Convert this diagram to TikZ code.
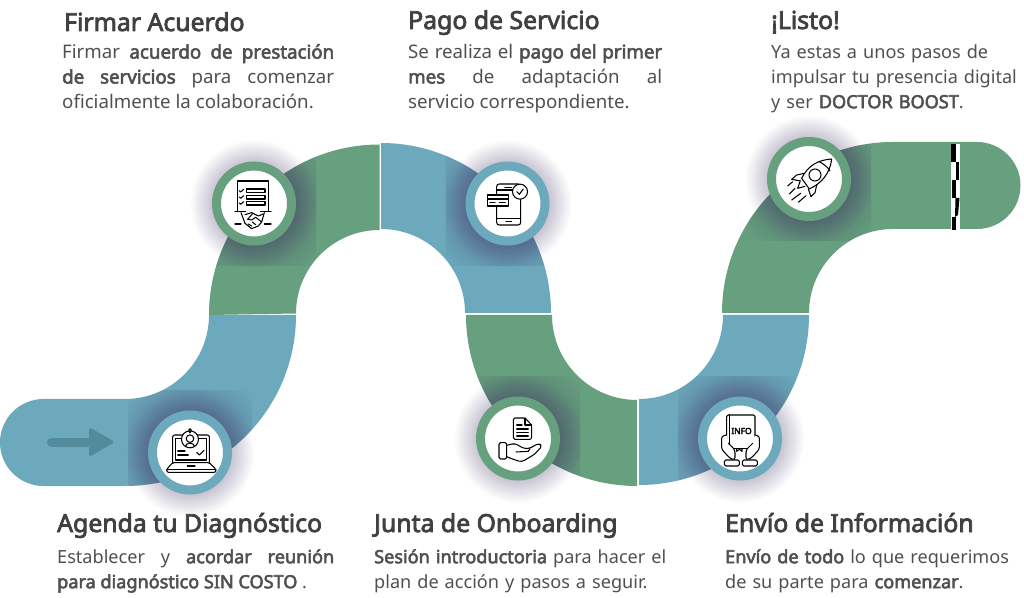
\documentclass[tikz,border=0pt]{standalone}
\usepackage{fontspec}
\setmainfont[BoldFont={Noto Sans},BoldFeatures={FakeBold=3}]{Noto Sans}
\usetikzlibrary{fadings}
\definecolor{ribbonblue}{HTML}{6CA9BC}
\definecolor{ribbongreen}{HTML}{66A07E}
\definecolor{arrowblue}{HTML}{528B9B}
\definecolor{inktext}{HTML}{404040}
\definecolor{bodytext}{HTML}{505050}
\definecolor{glowcol}{HTML}{3E2F62}
\tikzfading[name=glow, inner color=transparent!20, outer color=transparent!100]
\tikzfading[name=ribbonglow, inner color=transparent!45, outer color=transparent!100]
\tikzset{
  seg blue/.style={fill=ribbonblue,draw=none},
  seg green/.style={fill=ribbongreen,draw=none},
  title text/.style={anchor=base west,inner sep=0pt,text=inktext,font=\bfseries\fontsize{24.8}{27}\selectfont},
  body text/.style={anchor=north west,inner sep=0pt,text=bodytext,font=\fontsize{18.1}{25}\selectfont,
     text width=#1,align=justify,execute at begin node={\hyphenpenalty=10000\tolerance=9999\hbadness=10000\rule{0pt}{14pt}}},
  body left/.style={anchor=north west,inner sep=0pt,text=bodytext,font=\fontsize{18.1}{25}\selectfont,
     text width=#1,align=left,execute at begin node={\hyphenpenalty=10000\rule{0pt}{14pt}}},
  body wide/.style={font=\fontsize{18.7}{25}\selectfont},
  icon/.style={draw=black,line width=1.05pt,line join=round,line cap=round},
  badge blue/.style={circle,fill=white,draw=ribbonblue,line width=9pt,minimum size=75pt,inner sep=0pt},
  badge green/.style={circle,fill=white,draw=ribbongreen,line width=9pt,minimum size=75pt,inner sep=0pt},
}
\newcommand{\segA}{(125,111) -- (43.5,111) arc (270:90:43.5) -- (125,198) arc (-90:0:84) -- (296,282) arc (0:-90:171) -- cycle}
\newcommand{\segB}{(209,282) arc (180:90:170.5) -- (379.5,367) arc (90:180:83.5) -- cycle}
\newcommand{\segC}{(381,454) arc (90:0:170) -- (465,284) arc (0:90:84) -- cycle}
\newcommand{\segD}{(466,282) arc (180:270:171) -- (637,197) arc (270:180:85) -- cycle}
\newcommand{\segE}{(639,112) arc (-90:0:170) -- (723,282) arc (0:-90:84) -- cycle}
\newcommand{\segF}{(722,284) arc (180:90:171) -- (977,455) arc (90:-90:43.5) -- (893,368) arc (90:180:84) -- cycle}
\newcommand{\badgeshadow}[3]{%
  \begin{scope}\clip #3;\clip (#1-62,#2-62) rectangle (#1+62,#2+62);
  \fill[glowcol,path fading=ribbonglow] (#1,#2) circle[radius=85pt];\end{scope}
  \fill[glowcol,path fading=glow] (#1,#2) circle[radius=64pt];}
\begin{document}
\begin{tikzpicture}[x=1pt,y=1pt]
\useasboundingbox (0,0) rectangle (1024,597);
\fill[white] (0,0) rectangle (1024,597);
% ribbon
\fill[seg blue] \segA;
\fill[seg green] \segB;
\fill[seg blue] \segC;
\fill[seg green] \segD;
\fill[seg blue] \segE;
\fill[seg green] \segF;
% start arrow
\draw[arrowblue,line width=9pt,line cap=round] (51.5,155) -- (92,155);
\fill[arrowblue,rounded corners=3pt] (89,170) -- (115,155) -- (89,140) -- cycle;
% finish line
\fill[white] (951,367) rectangle (960,453);
\fill[black] (951,453) rectangle (955.5,435);
\fill[black] (955.5,435) rectangle (959,417);
\fill[black] (952,417) rectangle (956,399);
\fill[black] (955.5,399) -- (959.5,399) -- (958,382) -- (955,380) -- cycle;
\fill[black] (952,380) rectangle (956,367);
% shadows
\badgeshadow{190}{144.5}{\segA}
\badgeshadow{254}{393.5}{\segB}
\badgeshadow{507.5}{393.5}{\segC}
\badgeshadow{518}{158.5}{\segD}
\badgeshadow{740}{158.5}{\segE}
\badgeshadow{809}{418}{\segF}
% badges
\node[badge blue] (badgeA) at (190,144.5) {};
\node[badge green] (badgeB) at (254,393.5) {};
\node[badge blue] (badgeC) at (507.5,393.5) {};
\node[badge green] (badgeD) at (518,158.5) {};
\node[badge blue] (badgeE) at (740,158.5) {};
\node[badge green] (badgeF) at (809,418) {};
% icon laptop
\begin{scope}[shift={(130,207)},x=0.3333pt,y=-0.3333pt,icon]
\draw[rounded corners=2pt] (128,218) -- (128,135) -- (238,135) -- (238,218);
\draw (137,210) -- (137,145) -- (229,145) -- (229,210) -- cycle;
\draw[rounded corners=1.5pt] (128,218) -- (110,238) -- (110,247) -- (258,247) -- (258,238) -- (238,218) -- cycle;
\draw (110,238) -- (258,238);
\draw (172,228) -- (195,228);
\draw[fill=white] (180,148) circle[radius=8.5pt];
\draw (180,129) .. controls (168,112) and (192,112) .. (180,129);
\draw (180,146) circle[radius=3.8pt];
\draw (166,170) .. controls (168,156) and (192,156) .. (194,170);
\draw (143,183) -- (165,183) (143,195) -- (175,195);
\draw (200,187) -- (208,195) -- (222,181);
\end{scope}
% icon agreement
\begin{scope}[shift={(195,457)},x=0.3333pt,y=-0.3333pt,icon]
\draw (127,215) -- (127,123) -- (220,123) -- (220,215);
\draw (155,147) rectangle (210,157) (155,167) rectangle (210,177) (155,185) rectangle (210,195);
\draw (133,152) -- (137,156) -- (146,148) (133,171) -- (137,175) -- (146,167) (133,189) -- (137,193) -- (146,185);
\draw (120,214) -- (152,214) (196,214) -- (228,214) (120,252) -- (138,252) (208,252) -- (228,252);
\draw (138,218) -- (150,250) (208,218) -- (200,246);
\draw (150,224) -- (170,218) -- (190,228) -- (205,222);
\draw (172,222) -- (158,238) -- (170,240) -- (182,232) -- (200,246) -- (190,258) -- (170,266) -- (150,250);
\draw (160,252) -- (170,258) (172,246) -- (182,254);
\end{scope}
% icon phone
\begin{scope}[shift={(450,452)},x=0.3333pt,y=-0.3333pt,icon]
\draw[rounded corners=2.5pt] (140,240) rectangle (212,117);
\draw (140,135) -- (212,135) (140,220) -- (212,220);
\draw (165,127) -- (185,127) (168,230) -- (185,230);
\draw[fill=white] (113,150) rectangle (175,183);
\draw (113,162) -- (175,162);
\draw (120,173) -- (135,173) (148,173) -- (166,173);
\draw[fill=white] (210,140) circle[radius=7.5pt];
\draw (200,140) -- (208,148) -- (220,132);
\end{scope}
% icon document and hand
\begin{scope}[shift={(460,217)},x=0.3333pt,y=-0.3333pt,icon]
\draw[rounded corners=1.5pt] (160,114) -- (195,114) -- (215,135) -- (215,178) -- (160,178) -- cycle;
\draw (195,114) -- (195,135) -- (215,135);
\draw (170,135) -- (186,135) (170,147) -- (205,147) (170,158) -- (205,158) (170,168) -- (205,168);
\draw[rounded corners=1.5pt] (117,188) rectangle (140,237);
\draw[rounded corners=3pt] (140,196) -- (165,190) -- (190,205) -- (208,206) -- (235,190) -- (247,197) -- (225,222) -- (185,246) -- (160,238) -- (140,230);
\draw (168,216) -- (205,214) -- (210,206);
\end{scope}
% icon info book
\begin{scope}[shift={(680,217)},x=0.3333pt,y=-0.3333pt,icon]
\draw[rounded corners=1.5pt] (140,205) -- (140,105) -- (225,105) -- (225,205);
\draw (149,105) -- (149,205);
\draw (140,205) -- (225,205);
\draw (170,205) -- (170,214) -- (178,208) -- (186,214) -- (186,205);
\draw[rounded corners=2.5pt,fill=white] (140,165) -- (125,168) -- (125,208) -- (150,235) -- (165,240) -- (165,210) -- (145,190);
\draw[rounded corners=2.5pt,fill=white] (225,165) -- (238,168) -- (238,208) -- (213,235) -- (198,240) -- (198,210) -- (218,190);
\draw[rounded corners=1.5pt] (133,240) rectangle (178,258);
\draw[rounded corners=1.5pt] (187,240) rectangle (232,258);
\end{scope}
\node[inner sep=0pt,font=\bfseries\fontsize{8.5}{9}\selectfont,text=black] (infolabel) at (741.5,166) {INFO};
% icon rocket
\begin{scope}[shift={(750,472)},x=0.3333pt,y=-0.3333pt,icon]
\draw (245,102) .. controls (205,105) and (175,120) .. (155,160) -- (178,192) .. controls (215,175) and (240,145) .. (245,102) -- cycle;
\draw (208,110) .. controls (222,118) and (232,125) .. (240,138);
\draw (195,150) circle[radius=6pt];
\draw (163,145) -- (140,150) -- (125,163) -- (152,168);
\draw (200,180) -- (195,203) -- (183,215) -- (175,192);
\draw (150,170) -- (143,190) -- (165,184);
\draw (128,170) -- (113,183) (135,190) -- (118,207) (152,205) -- (125,225) (168,212) -- (145,232);
\end{scope}
% texts
\node[title text] (t1) at (64,566) {Firmar Acuerdo};
\node[body text=272pt,body wide] (b1) at (62,553) {Firmar \textbf{acuerdo de prestación}\linebreak \textbf{de servicios} para comenzar\linebreak oficialmente la colaboración.};
\node[title text] (t2) at (408,568) {Pago de Servicio};
\node[body text=254pt,body wide] (b2) at (408,553) {Se realiza el \textbf{pago del primer}\linebreak \textbf{mes} de adaptación al\linebreak servicio correspondiente.};
\node[title text] (t3) at (771,568) {¡Listo!};
\node[body left=250pt] (b3) at (771,553) {Ya estas a unos pasos de\\ impulsar tu presencia digital\\ y ser \textbf{DOCTOR BOOST}.};
\node[title text] (t4) at (57,65) {Agenda tu Diagnóstico};
\node[body text=277pt] (b4) at (57,48) {Establecer y \textbf{acordar reunión}\linebreak \textbf{para diagnóstico SIN COSTO} .};
\node[title text] (t5) at (374,65) {Junta de Onboarding};
\node[body left=320pt] (b5) at (374,48) {\textbf{Sesión introductoria} para hacer el\\ plan de acción y pasos a seguir.};
\node[title text] (t6) at (725,65) {Envío de Información};
\node[body left=295pt] (b6) at (725,48) {\textbf{Envío de todo} lo que requerimos\\ de su parte para \textbf{comenzar}.};
\end{tikzpicture}
\end{document}
